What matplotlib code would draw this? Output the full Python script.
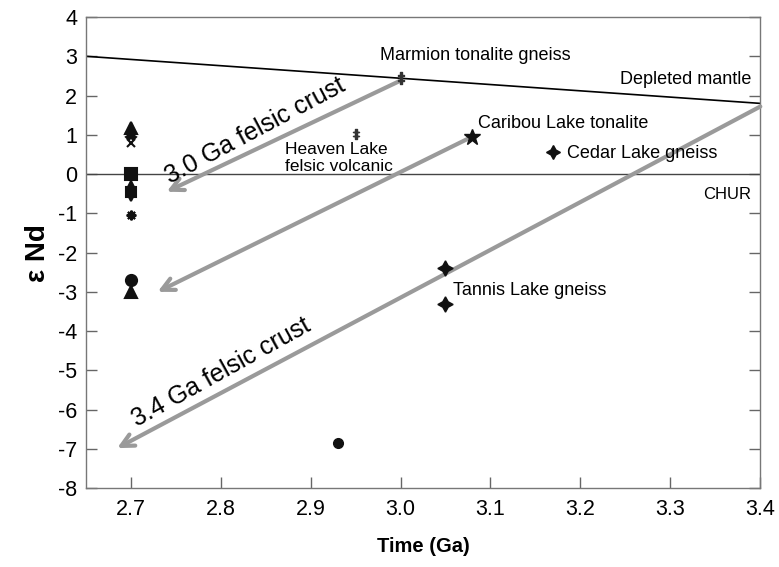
import matplotlib
matplotlib.use("Agg")
import matplotlib.pyplot as plt

plt.rcParams['font.family'] = ['Liberation Sans', 'DejaVu Sans']
plt.rcParams['axes.unicode_minus'] = False

# reference lines
mantleX = [2.65, 3.4]
mantleY = [3.0, 1.8]
churX = [2.65, 3.4]
churY = [0.0, 0.0]

# samples at 2.7 Ga (marker, value)
youngMarkers = ['^', 'X', 'x', 's', '^', 's', 'v', (8, 2, 0), 'o', '^']
youngValues = [1.17, 0.99, 0.79, 0.0, -0.26, -0.45, -0.62, -1.05, -2.70, -3.0]
youngSizes = [8, 7, 6, 8, 5, 7, 5, 7, 8, 8]

# named samples
marmion = (3.0, 2.45)
heaven = (2.95, 1.02)
caribou = (3.08, 0.95)
cedar = (3.17, 0.55)
tannisX = [3.05, 3.05]
tannisY = [-2.4, -3.3]
circleSample = (2.93, -6.85)

# crust evolution arrows (start, end)
arrows = [((3.0, 2.38), (2.74, -0.45)),
          ((3.075, 0.9), (2.73, -3.0)),
          ((3.4, 1.72), (2.685, -6.98))]

xTicks = [2.7, 2.8, 2.9, 3.0, 3.1, 3.2, 3.3, 3.4]
xTickLabels = ['2.7', '2.8', '2.9', '3.0', '3.1', '3.2', '3.3', '3.4']
yTicks = list(range(-8, 5))


def main():
	fig = plt.figure(figsize=(7.79, 5.67), dpi=100)
	ax = fig.add_axes([0.110, 0.139, 0.866, 0.831])

	ax.plot(mantleX, mantleY, color='black', lw=1.2, zorder=2)
	ax.plot(churX, churY, color='#444444', lw=1.0, zorder=2)

	for (x0, y0), (x1, y1) in arrows:
		ax.annotate('', xy=(x1, y1), xytext=(x0, y0),
					arrowprops=dict(arrowstyle='->,head_length=0.9,head_width=0.45',
									color='#9a9a9a', lw=3, shrinkA=0, shrinkB=0),
					zorder=3)

	for m, v, s in zip(youngMarkers, youngValues, youngSizes):
		ax.plot(2.7, v, marker=m, color='#111111', markersize=s, mew=1.5,
				ls='none', zorder=4)

	ax.plot(*marmion, marker='$\u2021$', color='#333333', markersize=8, zorder=5)
	ax.plot(*heaven, marker='$\u2021$', color='#333333', markersize=7, zorder=5)
	ax.plot(*caribou, marker='*', color='#111111', markersize=12, zorder=5)
	ax.plot(*cedar, marker=(4, 1, 0), color='#111111', markersize=10, zorder=5)
	ax.plot(tannisX, tannisY, marker=(4, 1, 0), color='#111111', markersize=11,
			ls='none', zorder=5)
	ax.plot(*circleSample, marker='o', color='#111111', markersize=7, zorder=5)

	fs = 13
	ax.text(2.977, 3.03, 'Marmion tonalite gneiss', fontsize=fs, va='center')
	ax.text(3.39, 2.4, 'Depleted mantle', fontsize=fs, va='center', ha='right')
	ax.text(3.086, 1.3, 'Caribou Lake tonalite', fontsize=fs, va='center')
	ax.text(2.872, 0.4, 'Heaven Lake\nfelsic volcanic', fontsize=fs - 0.5,
			va='center', linespacing=1.15)
	ax.text(3.185, 0.53, 'Cedar Lake gneiss', fontsize=fs, va='center')
	ax.text(3.39, -0.53, 'CHUR', fontsize=fs - 1, va='center', ha='right')
	ax.text(3.058, -2.96, 'Tannis Lake gneiss', fontsize=fs, va='center')
	ax.text(2.838, 1.1, '3.0 Ga felsic crust', fontsize=18, rotation=28,
			ha='center', va='center', rotation_mode='anchor')
	ax.text(2.801, -5.05, '3.4 Ga felsic crust', fontsize=18, rotation=29,
			ha='center', va='center', rotation_mode='anchor')

	ax.set_xlim(2.65, 3.4)
	ax.set_ylim(-8, 4)
	ax.set_xticks(xTicks)
	ax.set_xticklabels(xTickLabels)
	ax.set_yticks(yTicks)
	ax.tick_params(direction='in', length=8, width=1, color='#666666',
				   labelsize=15.5, right=True)
	ax.tick_params(axis='x', pad=8)
	ax.tick_params(axis='y', pad=6)
	for sp in ax.spines.values():
		sp.set_color('#777777')
		sp.set_linewidth(1.0)

	ax.set_xlabel('Time (Ga)', fontsize=14.5, fontweight='bold')
	ax.xaxis.set_label_coords(0.5, -0.104)
	ax.set_ylabel('\u03b5 Nd', fontsize=20, fontweight='bold')
	ax.yaxis.set_label_coords(-0.052, 0.5)

	fig.savefig('out.png', dpi=100)


if __name__ == "__main__":
	main()
